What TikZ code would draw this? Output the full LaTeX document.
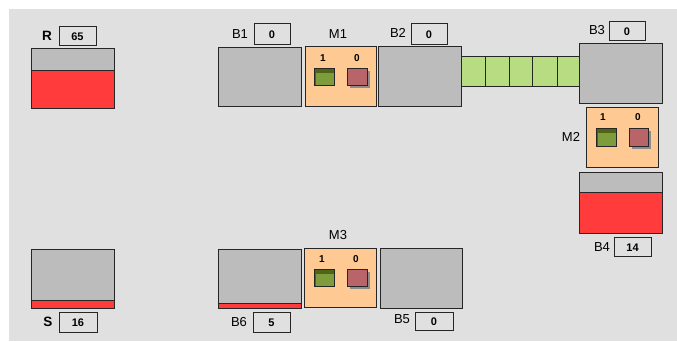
\documentclass[tikz,border=0pt]{standalone}
\usepackage{fontspec}
\setmainfont{Liberation Sans}
\usetikzlibrary{shadows}
\definecolor{bgc}{HTML}{E0E0E0}
\definecolor{bufc}{HTML}{BCBCBC}
\definecolor{machc}{HTML}{FFC993}
\definecolor{convc}{HTML}{B8DC82}
\definecolor{redc}{HTML}{FF3B3B}
\definecolor{oliveD}{HTML}{4F6414}
\definecolor{oliveL}{HTML}{7E9C3C}
\definecolor{roseC}{HTML}{B86468}
\tikzset{
  box/.style={draw=black!85, line width=0.9pt, inner sep=0pt, outer sep=0pt, anchor=north west},
  buf/.style={box, fill=bufc},
  mach/.style={box, fill=machc},
  cell/.style={box, fill=convc},
  valbox/.style={box, fill=none, draw=black!85, line width=0.8pt},
  lbl/.style={inner sep=0pt, font=\fontsize{13}{14}\selectfont},
  blbl/.style={inner sep=0pt, font=\fontsize{13.5}{14}\selectfont\bfseries},
  val/.style={inner sep=0pt, font=\fontsize{11}{12}\selectfont\bfseries},
  stat/.style={inner sep=0pt, font=\fontsize{10}{11}\selectfont\bfseries},
  upsq/.style={box, fill=oliveD, line width=0.8pt, minimum width=20pt, minimum height=17pt,
    path picture={\fill[oliveL] ([xshift=2pt,yshift=-4.5pt]path picture bounding box.north west) rectangle (path picture bounding box.south east);}},
  downsq/.style={box, fill=roseC, line width=0.8pt, minimum width=20pt, minimum height=17pt,
    drop shadow={shadow xshift=3pt, shadow yshift=-3pt, fill=black!45, opacity=1}},
  level/.style={fill=redc, draw=black!85, line width=0.9pt}
}
\begin{document}
\begin{tikzpicture}[x=1pt,y=-1pt]
\useasboundingbox (0,0) rectangle (677,341);
\fill[white] (0,0) rectangle (677,341);
\fill[bgc] (9,9) rectangle (677,341);

% R
\node[buf, minimum width=83pt, minimum height=60pt] (R) at (31,48) {};
\draw[level] (31,70) rectangle (114,108);
\node[blbl] (Rl) at (47,36) {R};
\node[valbox, minimum width=37pt, minimum height=19pt] (Rv) at (59,26) {};
\node[val] (Rt) at ([yshift=-1pt]Rv.center) {65};

% B1
\node[buf, minimum width=83pt, minimum height=59pt] (B1) at (218,47) {};
\node[lbl] (B1l) at (240,34) {B1};
\node[valbox, minimum width=36pt, minimum height=21pt] (B1v) at (254,23) {};
\node[val] (B1t) at ([yshift=-1pt]B1v.center) {0};

% M1
\node[mach, minimum width=71pt, minimum height=60pt] (M1) at (305,46) {};
\node[lbl] (M1l) at (338,34) {M1};
\node[stat] (M1a) at (323,58) {1};
\node[stat] (M1b) at (357,58) {0};
\node[upsq] (M1g) at (314,68) {};
\node[downsq] (M1r) at (347,68) {};

% B2
\node[buf, minimum width=83pt, minimum height=60pt] (B2) at (378,46) {};
\node[lbl] (B2l) at (398,33) {B2};
\node[valbox, minimum width=36pt, minimum height=21pt] (B2v) at (411,23) {};
\node[val] (B2t) at ([yshift=-1pt]B2v.center) {0};

% conveyor
\node[cell, minimum width=24pt, minimum height=30pt] (C1) at (461,56) {};
\node[cell, minimum width=24pt, minimum height=30pt] (C2) at (485,56) {};
\node[cell, minimum width=23pt, minimum height=30pt] (C3) at (509,56) {};
\node[cell, minimum width=25pt, minimum height=30pt] (C4) at (532,56) {};
\node[cell, minimum width=23pt, minimum height=30pt] (C5) at (557,56) {};

% B3
\node[buf, minimum width=83pt, minimum height=60pt] (B3) at (579,43) {};
\node[lbl] (B3l) at (597,30) {B3};
\node[valbox, minimum width=36pt, minimum height=19pt] (B3v) at (609,21) {};
\node[val] (B3t) at ([yshift=-1pt]B3v.center) {0};

% M2
\node[mach, minimum width=72pt, minimum height=60pt] (M2) at (586,107) {};
\node[lbl] (M2l) at (571,137) {M2};
\node[stat] (M2a) at (603,117) {1};
\node[stat] (M2b) at (638,117) {0};
\node[upsq, minimum height=18pt] (M2g) at (596,128) {};
\node[downsq, minimum width=19pt, minimum height=18pt] (M2r) at (629,128) {};

% B4
\node[buf, minimum width=83pt, minimum height=61pt] (B4) at (579,172) {};
\draw[level] (579,192) rectangle (662,233);
\node[lbl] (B4l) at (602,247) {B4};
\node[valbox, minimum width=37pt, minimum height=19pt] (B4v) at (614,237) {};
\node[val] (B4t) at ([yshift=-1pt]B4v.center) {14};

% S
\node[buf, minimum width=83pt, minimum height=59pt] (S) at (31,249) {};
\draw[level] (31,300) rectangle (114,308);
\node[blbl] (Sl) at (48,322) {S};
\node[valbox, minimum width=38pt, minimum height=20pt] (Sv) at (59,312) {};
\node[val] (St) at ([yshift=-1pt]Sv.center) {16};

% B6
\node[buf, minimum width=83pt, minimum height=59pt] (B6) at (218,249) {};
\draw[level] (218,303.5) rectangle (301,308);
\node[lbl] (B6l) at (239,322) {B6};
\node[valbox, minimum width=37pt, minimum height=20pt] (B6v) at (253,312) {};
\node[val] (B6t) at ([yshift=-1pt]B6v.center) {5};

% M3
\node[mach, minimum width=72pt, minimum height=59pt] (M3) at (304,248) {};
\node[lbl] (M3l) at (338,235) {M3};
\node[stat] (M3a) at (322,259) {1};
\node[stat] (M3b) at (356,259) {0};
\node[upsq] (M3g) at (314,269) {};
\node[downsq] (M3r) at (347,269) {};

% B5
\node[buf, minimum width=82pt, minimum height=60pt] (B5) at (380,248) {};
\node[lbl] (B5l) at (402,319) {B5};
\node[valbox, minimum width=38pt, minimum height=18pt] (B5v) at (415,312) {};
\node[val] (B5t) at ([yshift=-1pt]B5v.center) {0};
\end{tikzpicture}
\end{document}
